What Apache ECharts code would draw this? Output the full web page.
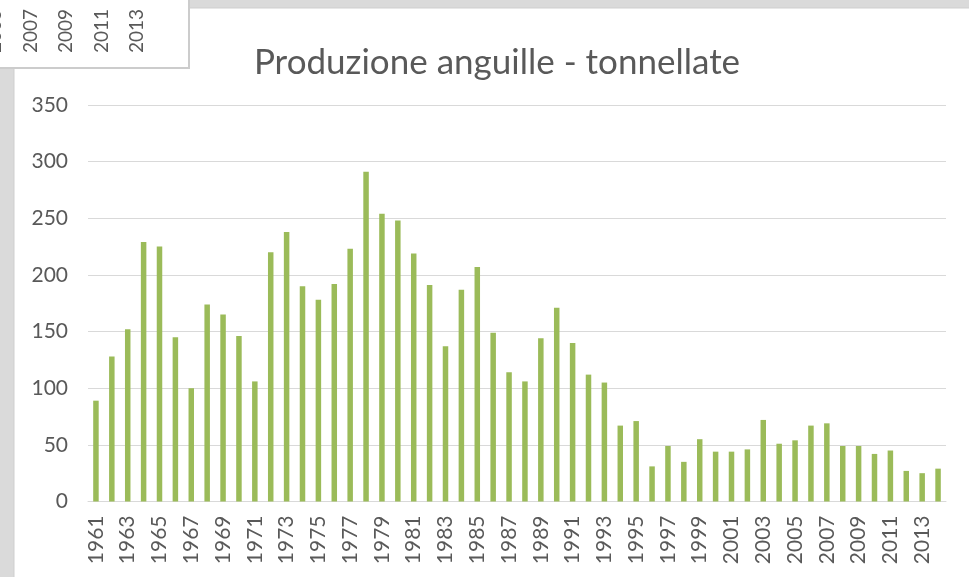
<!DOCTYPE html>
<html>
<head>
<meta charset="utf-8">
<title>Produzione anguille - tonnellate</title>
<script src="https://cdn.jsdelivr.net/npm/echarts@6/dist/echarts.min.js"></script>
<style>
  html, body { margin: 0; padding: 0; background: #dadada; }
  #chart { width: 969px; height: 577px; }
</style>
</head>
<body>
<div id="chart"></div>
<script>
// Years shown on the category axis
const years = [];
for (let y = 1961; y <= 2014; y++) years.push(String(y));

// Eel production, tonnes per year (1961-2014)
const production = [
  89, 128, 152, 229, 225, 145, 100, 174, 165, 146,
  106, 220, 238, 190, 178, 192, 223, 291, 254, 248,
  219, 191, 137, 187, 207, 149, 114, 106, 144, 171,
  140, 112, 105, 67, 71, 31, 49, 35, 55, 44,
  44, 46, 72, 51, 54, 67, 69, 49, 49, 42,
  45, 27, 25, 29
];

// Value axis ticks
const yTicks = [0, 50, 100, 150, 200, 250, 300, 350];

// Labels of the neighbouring chart peeking in at the top-left corner
const insetLabels = ['2005', '2007', '2009', '2011', '2013'];

const FONT = 'Lato, "Open Sans", sans-serif';
const TEXT = '#595959';

const chart = echarts.init(document.getElementById('chart'));

const insetTexts = insetLabels.map((t, i) => ({
  type: 'text',
  x: -5 + i * 35.5,
  y: 31,
  rotation: Math.PI / 2,
  z: 12,
  style: {
    text: t,
    fill: TEXT,
    font: '19px ' + FONT,
    textAlign: 'center',
    textVerticalAlign: 'middle'
  }
}));

chart.setOption({
  backgroundColor: '#dadada',
  animation: false,
  title: {
    text: 'Produzione anguille - tonnellate',
    left: 492,
    top: 40,
    textAlign: 'center',
    textStyle: { fontFamily: FONT, fontSize: 35, fontWeight: 'normal', color: TEXT }
  },
  graphic: [
    {
      type: 'rect',
      z: -10,
      shape: { x: 14, y: 8, width: 960, height: 580 },
      style: { fill: '#ffffff', stroke: '#cfcfcf', lineWidth: 1 }
    },
    {
      type: 'rect',
      z: 10,
      shape: { x: -2, y: -2, width: 191, height: 70 },
      style: { fill: '#ffffff', stroke: '#cccccc', lineWidth: 2 }
    }
  ].concat(insetTexts),
  grid: { left: 88, right: 23, top: 105, bottom: 75.5, containLabel: false },
  xAxis: {
    type: 'category',
    data: years,
    boundaryGap: true,
    axisLine: { lineStyle: { color: '#d9d9d9', width: 1 } },
    axisTick: { show: false },
    axisLabel: {
      interval: 1,
      rotate: 90,
      margin: 14,
      color: TEXT,
      fontFamily: FONT,
      fontSize: 21
    }
  },
  yAxis: {
    type: 'value',
    min: yTicks[0],
    max: yTicks[yTicks.length - 1],
    interval: 50,
    axisLine: { show: false },
    axisTick: { show: false },
    splitLine: { lineStyle: { color: '#d9d9d9', width: 1 } },
    axisLabel: { margin: 20, color: TEXT, fontFamily: FONT, fontSize: 21 }
  },
  series: [{
    type: 'bar',
    data: production,
    barWidth: 5.5,
    itemStyle: { color: '#9bbb59' }
  }]
});
</script>
</body>
</html>
